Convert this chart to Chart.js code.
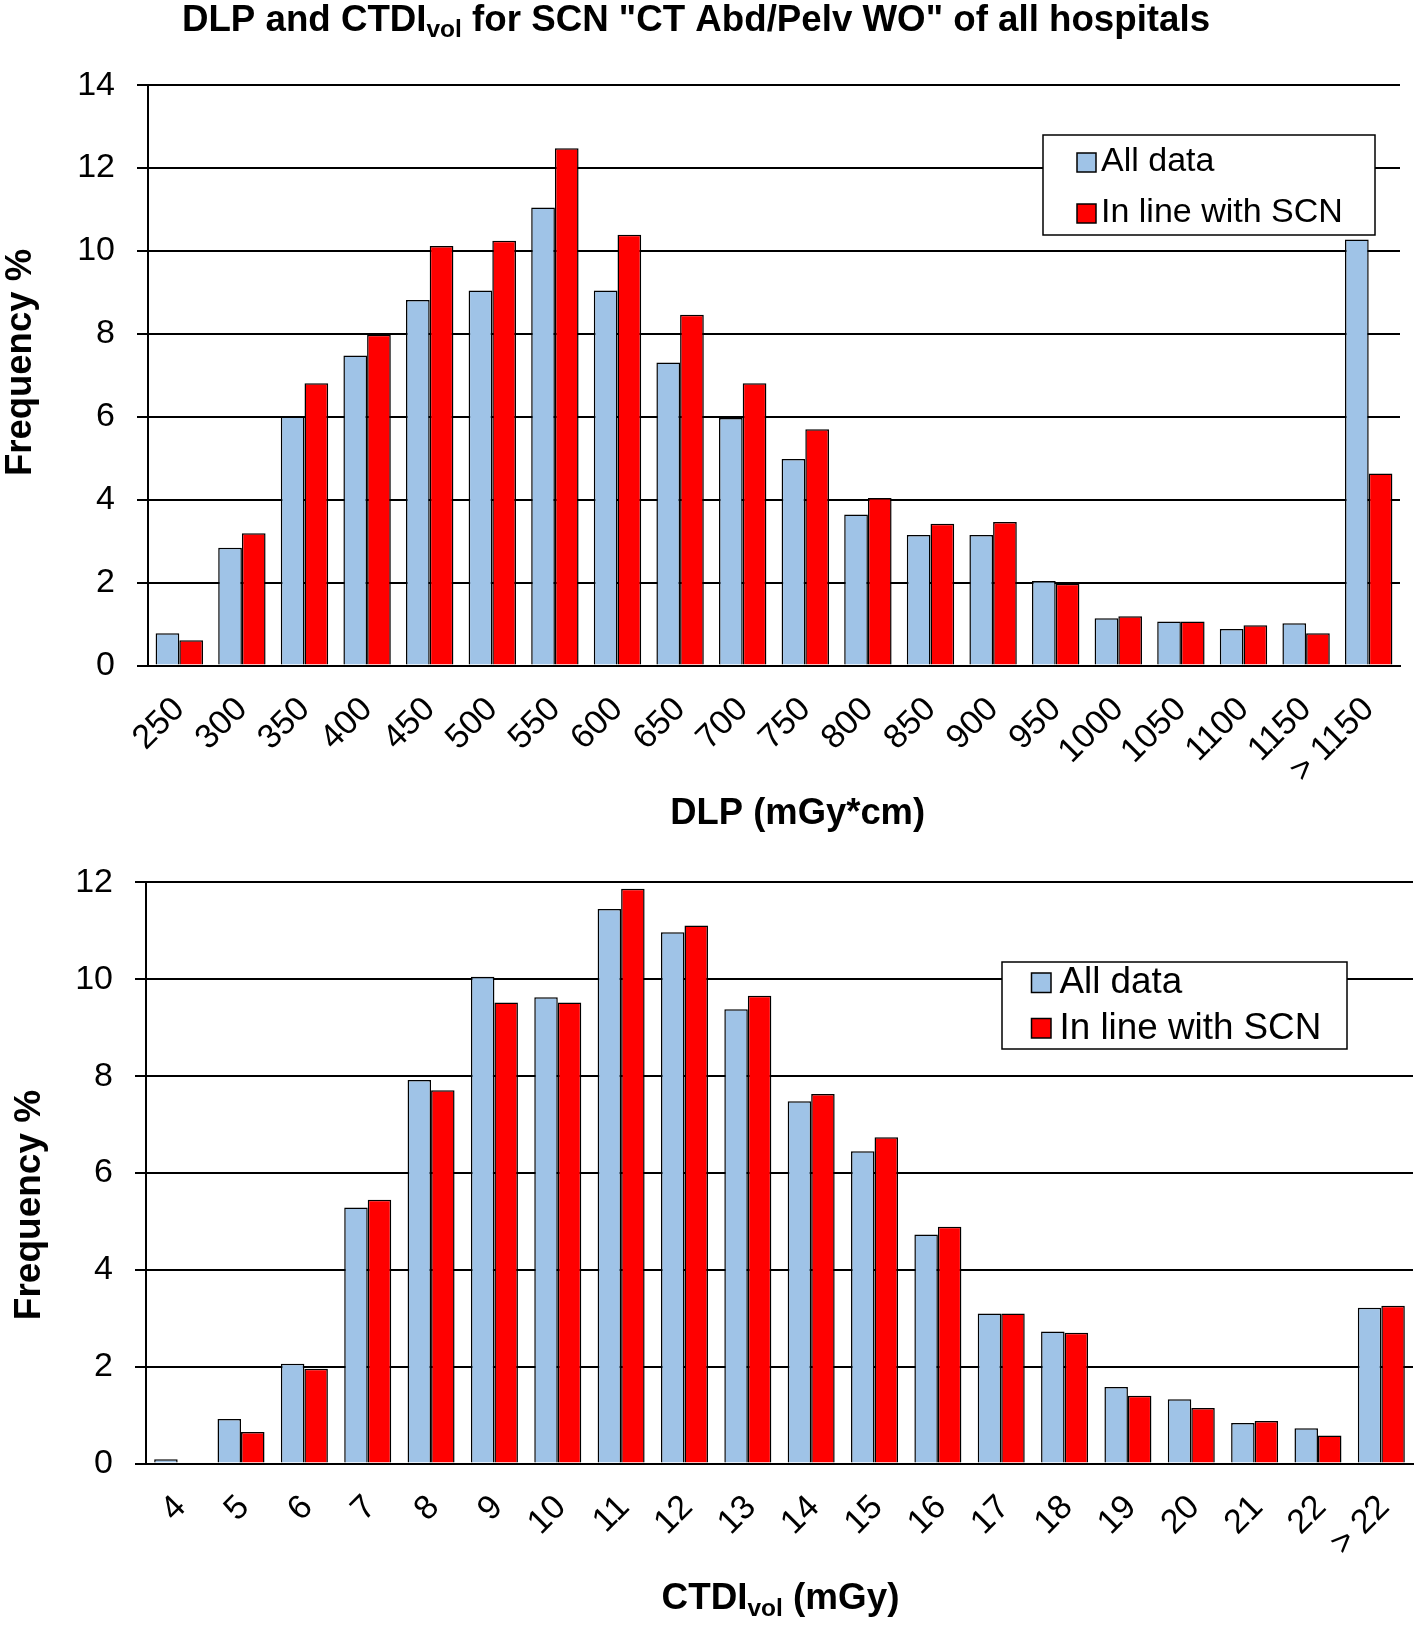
<!DOCTYPE html>
<html>
<head>
<meta charset="utf-8">
<script src="https://cdn.jsdelivr.net/npm/chart.js@4/dist/chart.umd.min.js"></script>
<style>
html,body{margin:0;padding:0;background:#fff;}
#wrap{position:relative;width:1418px;height:1629px;overflow:hidden;background:#fff;}
canvas{position:absolute;left:0;}
</style>
</head>
<body>
<div id="wrap">
<canvas id="c1" width="1418" height="840" style="top:0px"></canvas>
<canvas id="c2" width="1418" height="789" style="top:840px"></canvas>
</div>
<script>
// ---------- data ----------
const seriesNames = ['All data', 'In line with SCN'];

const dlpLabels = ['250','300','350','400','450','500','550','600','650','700','750','800','850','900','950','1000','1050','1100','1150','> 1150'];
const dlpAll = [0.78, 2.84, 6.01, 7.48, 8.82, 9.05, 11.05, 9.05, 7.31, 5.97, 4.98, 3.64, 3.15, 3.15, 2.04, 1.14, 1.06, 0.88, 1.02, 10.28];
const dlpSCN = [0.61, 3.19, 6.81, 7.98, 10.12, 10.25, 12.48, 10.39, 8.46, 6.81, 5.70, 4.04, 3.42, 3.46, 1.97, 1.19, 1.06, 0.97, 0.78, 4.63];

const ctdiLabels = ['4','5','6','7','8','9','10','11','12','13','14','15','16','17','18','19','20','21','22','> 22'];
const ctdiAll = [0.09, 0.92, 2.06, 5.29, 7.92, 10.05, 9.63, 11.45, 10.97, 9.38, 7.48, 6.45, 4.73, 3.10, 2.73, 1.58, 1.33, 0.84, 0.73, 3.22];
const ctdiSCN = [null, 0.65, 1.96, 5.45, 7.71, 9.52, 9.52, 11.87, 11.11, 9.66, 7.63, 6.74, 4.89, 3.10, 2.70, 1.40, 1.15, 0.88, 0.58, 3.26];

const titleParts = ['DLP and CTDI', 'vol', ' for SCN "CT Abd/Pelv WO" of all hospitals'];
const dlpAxisTitle = 'DLP (mGy*cm)';
const ctdiAxisTitleParts = ['CTDI', 'vol', ' (mGy)'];
const yAxisTitle = 'Frequency %';

// ---------- styling ----------
const FONT = "'Liberation Sans', Arial, Helvetica, sans-serif";
const BLUE = '#9fc3e7';
const RED = '#ff0000';

function drawRich(ctx, r) {
  let total = 0;
  r.parts.forEach(p => { ctx.font = 'bold ' + p.size + 'px ' + FONT; total += ctx.measureText(p.text).width; });
  let x = r.cx - total / 2;
  ctx.textAlign = 'left';
  ctx.textBaseline = 'alphabetic';
  r.parts.forEach(p => {
    ctx.font = 'bold ' + p.size + 'px ' + FONT;
    ctx.fillText(p.text, x, r.y + (p.dy || 0));
    x += ctx.measureText(p.text).width;
  });
}

function drawLegend(ctx, chart, L) {
  ctx.fillStyle = '#fff';
  ctx.fillRect(L.x, L.y, L.w, L.h);
  ctx.lineWidth = 1.5;
  ctx.strokeStyle = '#000';
  ctx.strokeRect(L.x, L.y, L.w, L.h);
  chart.data.datasets.forEach((ds, i) => {
    const sy = L.sqY + i * L.step;
    ctx.fillStyle = ds.backgroundColor;
    ctx.fillRect(L.sqX, sy, L.sq, L.sq);
    ctx.lineWidth = 1.5;
    ctx.strokeRect(L.sqX, sy, L.sq, L.sq);
    ctx.fillStyle = '#000';
    ctx.font = L.size + 'px ' + FONT;
    ctx.textAlign = 'left';
    ctx.textBaseline = 'alphabetic';
    ctx.fillText(ds.label, L.textX, L.baseY + i * L.step);
  });
}

const overlay = {
  id: 'overlay',
  afterDraw(chart, args, o) {
    const ctx = chart.ctx;
    ctx.save();
    ctx.fillStyle = '#000';
    (o.rich || []).forEach(r => { ctx.fillStyle = '#000'; drawRich(ctx, r); });
    (o.rotated || []).forEach(r => {
      ctx.save();
      ctx.fillStyle = '#000';
      ctx.translate(r.x, r.y);
      ctx.rotate(-Math.PI / 2);
      ctx.font = 'bold ' + r.size + 'px ' + FONT;
      ctx.textAlign = 'center';
      ctx.textBaseline = 'alphabetic';
      ctx.fillText(r.text, 0, 0);
      ctx.restore();
    });
    if (o.legend) drawLegend(ctx, chart, o.legend);
    ctx.restore();
  }
};

function makeChart(id, cfg) {
  return new Chart(document.getElementById(id), {
    type: 'bar',
    data: {
      labels: cfg.labels,
      datasets: [
        { label: seriesNames[0], data: cfg.all, backgroundColor: BLUE, borderColor: '#000', borderWidth: 1.5,
          categoryPercentage: cfg.catPct, barPercentage: 1 },
        { label: seriesNames[1], data: cfg.scn, backgroundColor: RED, borderColor: '#000', borderWidth: 1.5,
          categoryPercentage: cfg.catPct, barPercentage: 1 }
      ]
    },
    options: {
      responsive: false,
      animation: false,
      devicePixelRatio: 1,
      layout: { padding: { left: 0, right: cfg.padRight, top: cfg.padTop, bottom: 0 } },
      plugins: {
        legend: { display: false },
        title: { display: false },
        tooltip: { enabled: false },
        overlay: cfg.overlay
      },
      scales: {
        x: {
          grid: { display: false, drawTicks: false },
          border: { display: true, color: '#000', width: 2 },
          ticks: { color: '#000', font: { family: FONT, size: 34 }, maxRotation: 45, minRotation: 45,
                   autoSkip: false, padding: cfg.xPad, labelOffset: cfg.xOff },
          afterFit(s) { s.height = cfg.xHeight; s.paddingLeft = 0; s.paddingRight = 0; }
        },
        y: {
          min: 0, max: cfg.max,
          ticks: { stepSize: 2, color: '#000', font: { family: FONT, size: 34 }, padding: 22 },
          grid: { color: '#000', lineWidth: 2, tickLength: 11, drawTicks: true },
          border: { display: true, color: '#000', width: 2 },
          afterFit(s) { s.width = cfg.yWidth; }
        }
      }
    },
    plugins: [overlay]
  });
}

makeChart('c1', {
  labels: dlpLabels, all: dlpAll, scn: dlpSCN, max: 14, catPct: 0.757,
  padRight: 18, padTop: 85.2, xHeight: 840 - 665.5, yWidth: 148, xPad: 24, xOff: 0,
  overlay: {
    rich: [
      { cx: 696, y: 31, parts: [ { text: titleParts[0], size: 36.7 }, { text: titleParts[1], size: 24.5, dy: 6 }, { text: titleParts[2], size: 36.7 } ] },
      { cx: 797.7, y: 823.5, parts: [ { text: dlpAxisTitle, size: 36.4 } ] }
    ],
    rotated: [ { text: yAxisTitle, x: 31, y: 362.5, size: 36.5 } ],
    legend: { x: 1043, y: 135, w: 332, h: 100, sqX: 1077, sqY: 153, sq: 19, step: 51, textX: 1101, baseY: 171, size: 34 }
  }
});

makeChart('c2', {
  labels: ctdiLabels, all: ctdiAll, scn: ctdiSCN, max: 12, catPct: 0.742,
  padRight: 5, padTop: 24.5, xHeight: 789 - 623.6, yWidth: 146, xPad: 24, xOff: 3,
  overlay: {
    rich: [
      { cx: 780.5, y: 769, parts: [ { text: ctdiAxisTitleParts[0], size: 36.8 }, { text: ctdiAxisTitleParts[1], size: 24.5, dy: 7 }, { text: ctdiAxisTitleParts[2], size: 36.8 } ] }
    ],
    rotated: [ { text: yAxisTitle, x: 40, y: 365, size: 37 } ],
    legend: { x: 1002, y: 122, w: 345, h: 87, sqX: 1031.5, sqY: 133, sq: 19.5, step: 45.5, textX: 1059.5, baseY: 153, size: 36.8 }
  }
});
</script>
</body>
</html>
